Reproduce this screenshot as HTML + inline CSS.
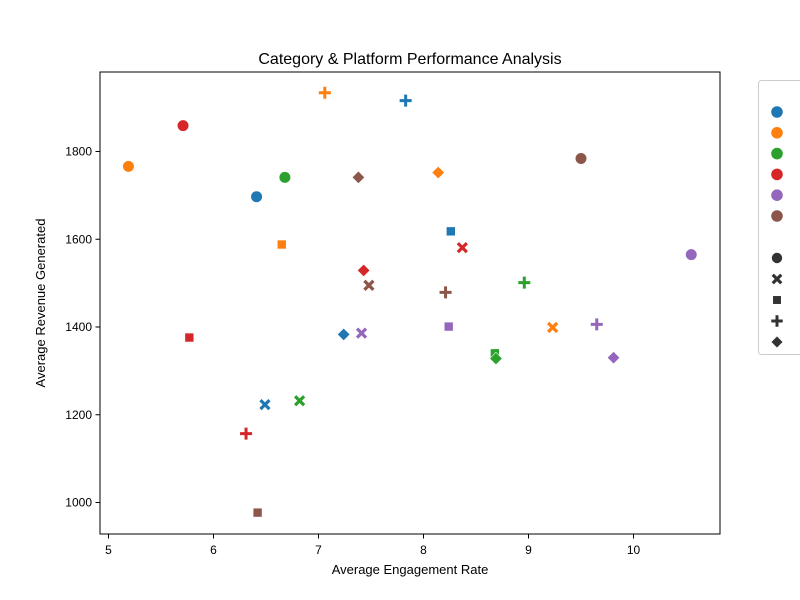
<!DOCTYPE html>
<html><head><meta charset="utf-8"><style>
body{margin:0;background:#fff;}
svg{display:block;font-family:"Liberation Sans","DejaVu Sans",sans-serif;}
</style></head><body>
<svg id="chart" width="800" height="600" viewBox="0 0 800 600">
<rect width="800" height="600" fill="#fff"/>
<text x="410" y="64" text-anchor="middle" font-size="16" fill="#000">Category &amp; Platform Performance Analysis</text>
<g id="axes"></g>
<g id="marks"></g>
<rect x="100" y="72" width="620" height="462" fill="none" stroke="#000" stroke-width="1"/>
<text x="410" y="574" text-anchor="middle" font-size="13">Average Engagement Rate</text>
<text x="45" y="303" text-anchor="middle" font-size="13" transform="rotate(-90 45 303)">Average Revenue Generated</text>
<g id="legend">
<rect x="758.5" y="80.5" width="60" height="274" rx="3" fill="#fff" stroke="#ccc"/>
</g>
</svg>
<script>
const colors=["#1f77b4","#ff7f0e","#2ca02c","#d62728","#9467bd","#8c564b"];
const shapes=["circle","x","square","plus","diamond"];
const xTicks=[5,6,7,8,9,10];
const yTicks=[1000,1200,1400,1600,1800];
// rows: color index; columns: shape index
const engagement=[
[6.41,6.49,8.26,7.83,7.24],
[5.19,9.23,6.65,7.06,8.14],
[6.68,6.82,8.68,8.96,8.69],
[5.71,8.37,5.77,6.31,7.43],
[10.55,7.41,8.24,9.65,9.81],
[9.50,7.48,6.42,8.21,7.38]];
const revenue=[
[1697,1223,1618,1916,1383],
[1766,1399,1588,1934,1752],
[1741,1232,1340,1501,1328],
[1859,1581,1376,1157,1529],
[1565,1386,1401,1406,1330],
[1784,1495,977,1479,1741]];
const NS="http://www.w3.org/2000/svg";
const X=v=>108.5+(v-5)*105;
const Y=v=>502.5-(v-1000)*0.43875;
function mk(t,a,p){const e=document.createElementNS(NS,t);for(const k in a)e.setAttribute(k,a[k]);p.appendChild(e);return e;}
const axes=document.getElementById('axes');
xTicks.forEach(t=>{
 const g=mk('g',{},axes);
 
 
 mk('line',{x1:X(t),x2:X(t),y1:534,y2:538.5,stroke:'#000'},g);
 const tx=mk('text',{x:X(t),y:554,'text-anchor':'middle','font-size':12},g);tx.textContent=t;
});
yTicks.forEach(t=>{
 const g=mk('g',{},axes);
 
 
 mk('line',{x1:95.5,x2:100,y1:Y(t),y2:Y(t),stroke:'#000'},g);
 const tx=mk('text',{x:92,y:Y(t)+4,'text-anchor':'end','font-size':12},g);tx.textContent=t;
});
function marker(shape,cx,cy,col,p,s){
 s=s||1;let e;
 if(shape==='circle')e=mk('circle',{cx,cy,r:5.8*s,fill:col,stroke:'#fff','stroke-width':0.6},p);
 else if(shape==='square')e=mk('rect',{x:cx-4.5*s,y:cy-4.5*s,width:9*s,height:9*s,fill:col,stroke:'#fff','stroke-width':0.6},p);
 else if(shape==='diamond'){const d=6.3*s;e=mk('polygon',{points:`${cx},${cy-d} ${cx+d},${cy} ${cx},${cy+d} ${cx-d},${cy}`,fill:col,stroke:'#fff','stroke-width':0.6},p);}
 else if(shape==='plus'){const d=6*s;e=mk('path',{d:`M${cx-d},${cy}H${cx+d}M${cx},${cy-d}V${cy+d}`,stroke:col,'stroke-width':3},p);}
 else {const d=4.5*s;e=mk('path',{d:`M${cx-d},${cy-d}L${cx+d},${cy+d}M${cx+d},${cy-d}L${cx-d},${cy+d}`,stroke:col,'stroke-width':3.2},p);}
 return e;
}
const marks=document.getElementById('marks');
engagement.forEach((row,i)=>row.forEach((v,j)=>{
 const e=marker(shapes[j],X(v),Y(revenue[i][j]),colors[i],marks);
 
 
}));
const lg=document.getElementById('legend');
colors.forEach((c,i)=>{
 const e=marker('circle',777,112+i*20.8,c,lg,1.05);
 
 
});
shapes.forEach((s,i)=>{
 const e=marker(s,777,258+i*21,'#333',lg,0.95);
 
 
});
</script>
</body></html>
